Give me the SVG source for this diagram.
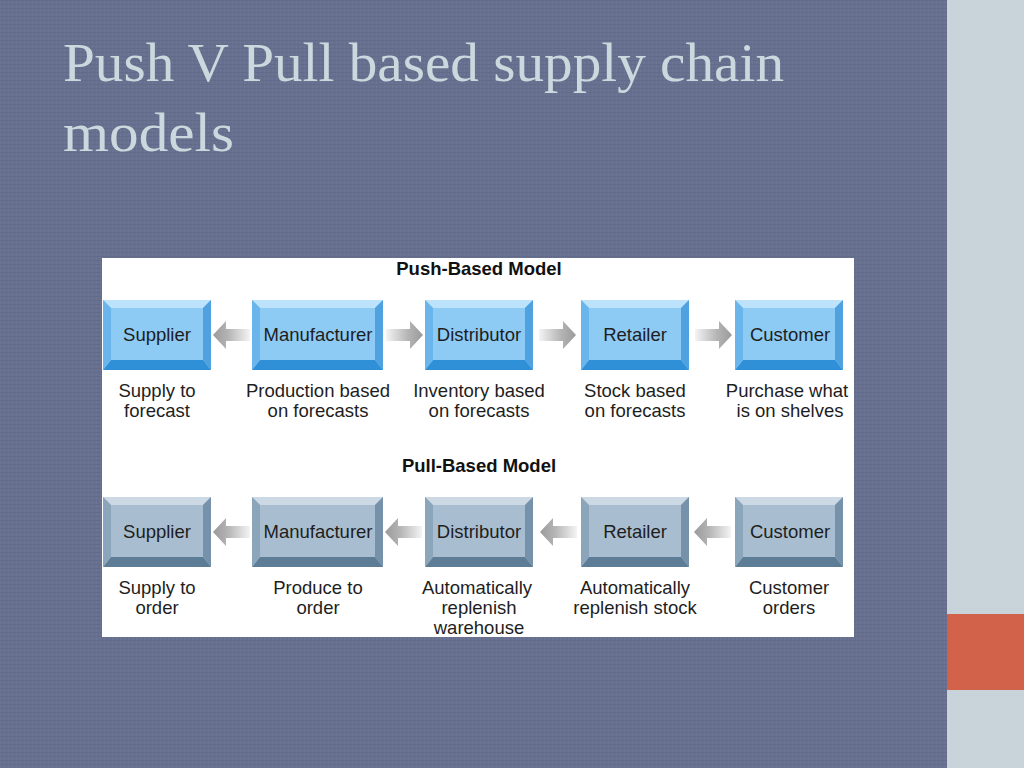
<svg xmlns="http://www.w3.org/2000/svg" width="1024" height="768" viewBox="0 0 1024 768">
<defs>
<style>
.t{font-family:"Liberation Sans",Arial,sans-serif;font-size:18.5px;fill:#1e1e1e;text-anchor:middle}
.h{font-family:"Liberation Sans",Arial,sans-serif;font-size:18.5px;font-weight:bold;fill:#111;text-anchor:middle}
.title{font-family:"Liberation Serif","DejaVu Serif",serif;font-size:54px;fill:#cdd7de}
.pf{fill:#8dcaf4}.pt{fill:#bde2fb}.pb{fill:#2f8fd7}.pl{fill:#6ab6ec}.pr{fill:#4fa2df}
.qf{fill:#a8bdcf}.qt{fill:#ccd9e4}.qb{fill:#5d7c96}.ql{fill:#8ba5ba}.qr{fill:#7592aa}
</style>
<linearGradient id="ag" x1="0" y1="0" x2="1" y2="0">
<stop offset="0" stop-color="#f4f4f4"/>
<stop offset="0.6" stop-color="#b4b4b4"/>
<stop offset="1" stop-color="#9a9a9a"/>
</linearGradient>
<path id="arr" d="M0,-6 H24 V-14 L37,0 L24,14 V6 H0 Z" fill="url(#ag)"/>
<pattern id="tex" width="4" height="4" patternUnits="userSpaceOnUse">
<rect width="4" height="4" fill="#67718f"/>
<rect width="1" height="4" fill="#6c7694"/>
<rect width="4" height="1" fill="#626c8a"/>
</pattern>
</defs>
<rect width="1024" height="768" fill="url(#tex)"/>
<rect x="947" y="0" width="77" height="768" fill="#c8d4d9"/>
<rect x="947" y="614" width="77" height="76" fill="#d2634a"/>
<text class="title" x="63" y="81" textLength="721" lengthAdjust="spacingAndGlyphs">Push V Pull based supply chain</text>
<text class="title" x="63" y="151" textLength="171" lengthAdjust="spacingAndGlyphs">models</text>
<rect x="102" y="258" width="752" height="379" fill="#ffffff"/>
<text class="h" x="479" y="275">Push-Based Model</text>
<text class="h" x="479" y="472">Pull-Based Model</text>

<g id="connectors">
<use href="#arr" transform="translate(250,335) scale(-1,1)"/>
<use href="#arr" transform="translate(386,335)"/>
<use href="#arr" transform="translate(539,335)"/>
<use href="#arr" transform="translate(695,335)"/>
<use href="#arr" transform="translate(250,532) scale(-1,1)"/>
<use href="#arr" transform="translate(422,532) scale(-1,1)"/>
<use href="#arr" transform="translate(577,532) scale(-1,1)"/>
<use href="#arr" transform="translate(731,532) scale(-1,1)"/>
</g>

<g id="push-supplier">
<rect class="pf" x="103" y="300" width="108" height="70"/>
<polygon class="pt" points="103,300 211,300 203,308 111,308"/>
<polygon class="pb" points="103,370 211,370 203,360 111,360"/>
<polygon class="pl" points="103,300 111,308 111,360 103,370"/>
<polygon class="pr" points="211,300 203,308 203,360 211,370"/>
<text class="t" x="157" y="341">Supplier</text>
<text class="t" x="157" y="397">Supply to</text>
<text class="t" x="157" y="417">forecast</text>
</g>
<g id="push-manufacturer">
<rect class="pf" x="252" y="300" width="131" height="70"/>
<polygon class="pt" points="252,300 383,300 375,308 260,308"/>
<polygon class="pb" points="252,370 383,370 375,360 260,360"/>
<polygon class="pl" points="252,300 260,308 260,360 252,370"/>
<polygon class="pr" points="383,300 375,308 375,360 383,370"/>
<text class="t" x="318" y="341">Manufacturer</text>
<text class="t" x="318" y="397">Production based</text>
<text class="t" x="318" y="417">on forecasts</text>
</g>
<g id="push-distributor">
<rect class="pf" x="425" y="300" width="108" height="70"/>
<polygon class="pt" points="425,300 533,300 525,308 433,308"/>
<polygon class="pb" points="425,370 533,370 525,360 433,360"/>
<polygon class="pl" points="425,300 433,308 433,360 425,370"/>
<polygon class="pr" points="533,300 525,308 525,360 533,370"/>
<text class="t" x="479" y="341">Distributor</text>
<text class="t" x="479" y="397">Inventory based</text>
<text class="t" x="479" y="417">on forecasts</text>
</g>
<g id="push-retailer">
<rect class="pf" x="581" y="300" width="108" height="70"/>
<polygon class="pt" points="581,300 689,300 681,308 589,308"/>
<polygon class="pb" points="581,370 689,370 681,360 589,360"/>
<polygon class="pl" points="581,300 589,308 589,360 581,370"/>
<polygon class="pr" points="689,300 681,308 681,360 689,370"/>
<text class="t" x="635" y="341">Retailer</text>
<text class="t" x="635" y="397">Stock based</text>
<text class="t" x="635" y="417">on forecasts</text>
</g>
<g id="push-customer">
<rect class="pf" x="735" y="300" width="108" height="70"/>
<polygon class="pt" points="735,300 843,300 835,308 743,308"/>
<polygon class="pb" points="735,370 843,370 835,360 743,360"/>
<polygon class="pl" points="735,300 743,308 743,360 735,370"/>
<polygon class="pr" points="843,300 835,308 835,360 843,370"/>
<text class="t" x="790" y="341">Customer</text>
<text class="t" x="787" y="397">Purchase what</text>
<text class="t" x="790" y="417">is on shelves</text>
</g>

<g id="pull-supplier">
<rect class="qf" x="103" y="497" width="108" height="70"/>
<polygon class="qt" points="103,497 211,497 203,505 111,505"/>
<polygon class="qb" points="103,567 211,567 203,557 111,557"/>
<polygon class="ql" points="103,497 111,505 111,557 103,567"/>
<polygon class="qr" points="211,497 203,505 203,557 211,567"/>
<text class="t" x="157" y="538">Supplier</text>
<text class="t" x="157" y="594">Supply to</text>
<text class="t" x="157" y="614">order</text>
</g>
<g id="pull-manufacturer">
<rect class="qf" x="252" y="497" width="131" height="70"/>
<polygon class="qt" points="252,497 383,497 375,505 260,505"/>
<polygon class="qb" points="252,567 383,567 375,557 260,557"/>
<polygon class="ql" points="252,497 260,505 260,557 252,567"/>
<polygon class="qr" points="383,497 375,505 375,557 383,567"/>
<text class="t" x="318" y="538">Manufacturer</text>
<text class="t" x="318" y="594">Produce to</text>
<text class="t" x="318" y="614">order</text>
</g>
<g id="pull-distributor">
<rect class="qf" x="425" y="497" width="108" height="70"/>
<polygon class="qt" points="425,497 533,497 525,505 433,505"/>
<polygon class="qb" points="425,567 533,567 525,557 433,557"/>
<polygon class="ql" points="425,497 433,505 433,557 425,567"/>
<polygon class="qr" points="533,497 525,505 525,557 533,567"/>
<text class="t" x="479" y="538">Distributor</text>
<text class="t" x="477" y="594">Automatically</text>
<text class="t" x="479" y="614">replenish</text>
<text class="t" x="479" y="634">warehouse</text>
</g>
<g id="pull-retailer">
<rect class="qf" x="581" y="497" width="108" height="70"/>
<polygon class="qt" points="581,497 689,497 681,505 589,505"/>
<polygon class="qb" points="581,567 689,567 681,557 589,557"/>
<polygon class="ql" points="581,497 589,505 589,557 581,567"/>
<polygon class="qr" points="689,497 681,505 681,557 689,567"/>
<text class="t" x="635" y="538">Retailer</text>
<text class="t" x="635" y="594">Automatically</text>
<text class="t" x="635" y="614">replenish stock</text>
</g>
<g id="pull-customer">
<rect class="qf" x="735" y="497" width="108" height="70"/>
<polygon class="qt" points="735,497 843,497 835,505 743,505"/>
<polygon class="qb" points="735,567 843,567 835,557 743,557"/>
<polygon class="ql" points="735,497 743,505 743,557 735,567"/>
<polygon class="qr" points="843,497 835,505 835,557 843,567"/>
<text class="t" x="790" y="538">Customer</text>
<text class="t" x="789" y="594">Customer</text>
<text class="t" x="789" y="614">orders</text>
</g>
</svg>
